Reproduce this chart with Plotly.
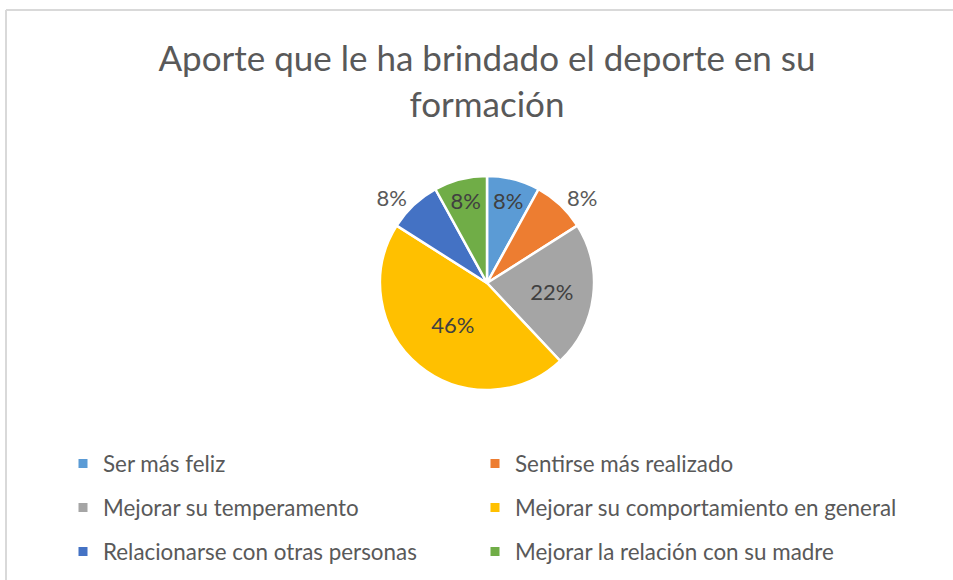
import plotly.graph_objects as go

categories = [
    "Ser más feliz",
    "Sentirse más realizado",
    "Mejorar su temperamento",
    "Mejorar su comportamiento en general",
    "Relacionarse con otras personas",
    "Mejorar la relación con su madre",
]
values = [8, 8, 22, 46, 8, 8]
colors = ["#5B9BD5", "#ED7D31", "#A5A5A5", "#FFC000", "#4472C4", "#70AD47"]
text_positions = ["inside", "outside", "inside", "inside", "outside", "inside"]

W, H = 953, 580
cx, cy, r = 487, 283, 107

fig = go.Figure()
fig.add_trace(go.Pie(
    labels=categories,
    values=values,
    sort=False,
    direction="clockwise",
    rotation=0,
    marker=dict(colors=colors, line=dict(color="white", width=2.5)),
    texttemplate="%{percent:.0%}",
    textposition=text_positions,
    insidetextorientation="horizontal",
    textfont=dict(family="Lato", size=22, color="#404040"),
    outsidetextfont=dict(family="Lato", size=22, color="#595959"),
    domain=dict(x=[(cx - r) / W, (cx + r) / W], y=[1 - (cy + r) / H, 1 - (cy - r) / H]),
    hoverinfo="label+percent",
    showlegend=False,
))

# legend entries: two columns, three rows -> one legend box per entry
legend_ids = ["legend", "legend2", "legend3", "legend4", "legend5", "legend6"]
for cat, col, lg in zip(categories, colors, legend_ids):
    fig.add_trace(go.Scatter(
        x=[None], y=[None], mode="markers", name=cat,
        marker=dict(symbol="square", size=9, color=col),
        legend=lg, showlegend=True,
    ))

legend_rows_px = [464, 508, 552]
legend_cols_px = [63, 475]
leg_common = dict(
    orientation="h", xanchor="left", yanchor="middle",
    font=dict(family="Lato", size=22.4, color="#595959"),
    bgcolor="rgba(0,0,0,0)",
)
legends = {}
for i, lg in enumerate(legend_ids):
    row, colnum = divmod(i, 2)
    legends[lg] = dict(x=legend_cols_px[colnum] / W, y=1 - legend_rows_px[row] / H, **leg_common)

fig.update_layout(
    width=W, height=H,
    margin=dict(l=0, r=0, t=0, b=0),
    paper_bgcolor="white",
    plot_bgcolor="white",
    xaxis=dict(visible=False),
    yaxis=dict(visible=False),
    font=dict(family="Lato", color="#595959"),
    title=dict(
        text="Aporte que le ha brindado el deporte en su<br>formación",
        x=487 / W, xanchor="center", y=1 - 71 / H, yanchor="middle",
        font=dict(family="Lato", size=35, color="#595959"),
    ),
    shapes=[
        dict(type="line", xref="paper", yref="paper", x0=6 / W, x1=1, y0=1 - 10 / H, y1=1 - 10 / H,
             line=dict(color="#D9D9D9", width=2)),
        dict(type="line", xref="paper", yref="paper", x0=6 / W, x1=6 / W, y0=1 - 10 / H, y1=0,
             line=dict(color="#D9D9D9", width=2)),
    ],
    **legends,
)

fig.write_html(
    "out.html",
    config={"displayModeBar": False},
    post_script="document.body.style.margin='0';document.body.style.overflow='hidden';",
)
